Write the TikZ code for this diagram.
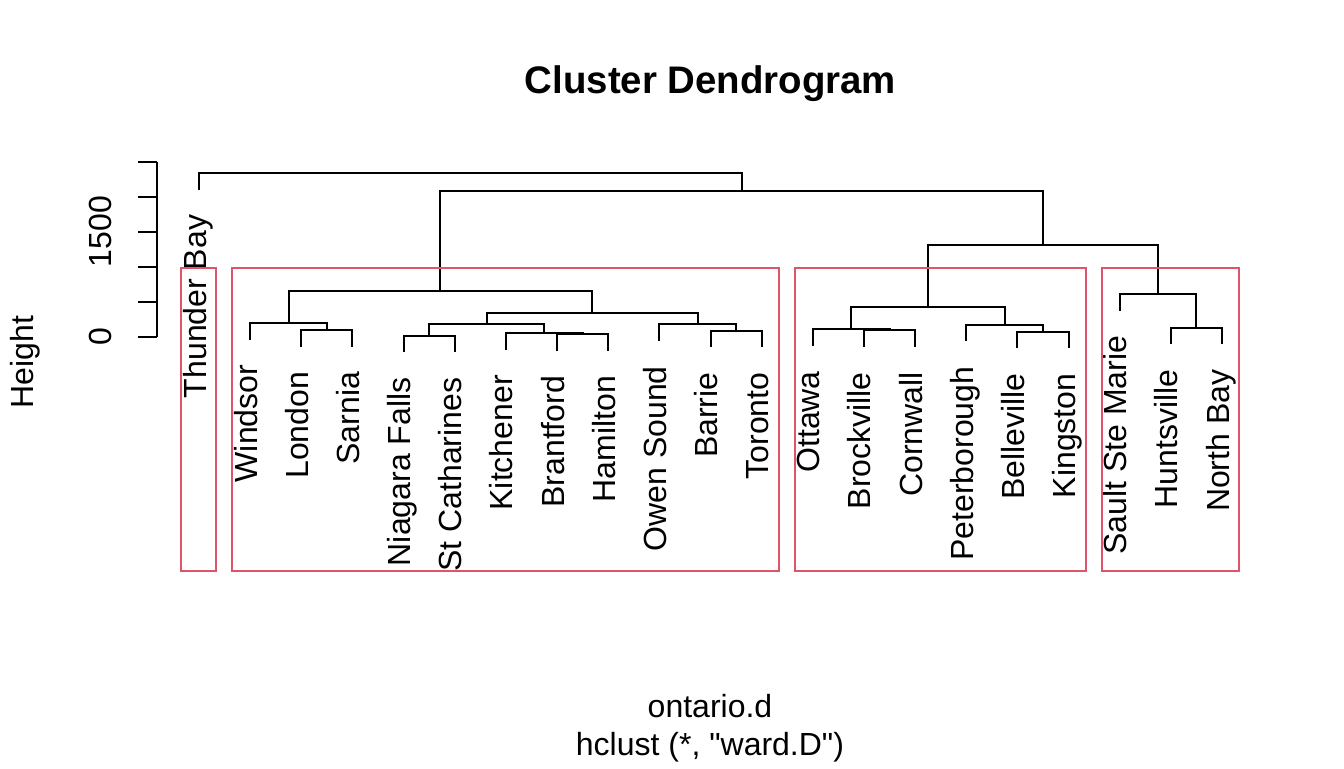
\documentclass[tikz,border=0pt]{standalone}
\usepackage{fontspec}
\setmainfont{Liberation Sans}
\newfontfamily\rawsans[Ligatures=TeXOff]{Liberation Sans}
\begin{document}
\begin{tikzpicture}[x=0.5pt,y=-0.5pt,
  branch/.style={line width=1pt,black},
  clusterbox/.style={line width=1pt,draw=boxred},
  leaflabel/.style={rotate=90,anchor=base east,inner sep=0pt,font=\fontsize{16}{19}\selectfont},
  ticklabel/.style={rotate=90,anchor=base,inner sep=0pt,font=\fontsize{16}{19}\selectfont},
  plaintext/.style={anchor=base,inner sep=0pt,font=\fontsize{16}{19}\selectfont}]
\definecolor{boxred}{HTML}{DF536B}
\useasboundingbox (0,0) rectangle (1344,768);

% leaf ends and their labels
\newcommand\dleaf[4]{%
  \coordinate (#1) at (#2,#3);
  \node[leaflabel] (#1-t) at ([xshift=3.5pt,yshift=-12.5pt]#1) {#4};}
\dleaf{TB}{199}{189.5}{Thunder Bay}
\dleaf{Win}{250.15}{339.5}{Windsor}
\dleaf{Lon}{301.3}{346.5}{London}
\dleaf{Sar}{352.45}{346.5}{Sarnia}
\dleaf{NF}{403.6}{352.2}{Niagara Falls}
\dleaf{StC}{454.75}{352.2}{St Catharines}
\dleaf{Kit}{505.9}{349.8}{Kitchener}
\dleaf{Bra}{557.05}{350.5}{Brantford}
\dleaf{Ham}{608.2}{350.5}{Hamilton}
\dleaf{Owe}{659.35}{340.8}{Owen Sound}
\dleaf{Bar}{710.5}{347.2}{Barrie}
\dleaf{Tor}{761.65}{347.2}{Toronto}
\dleaf{Ott}{812.8}{345.8}{Ottawa}
\dleaf{Bro}{863.95}{346.8}{Brockville}
\dleaf{Cor}{915.1}{346.8}{Cornwall}
\dleaf{Pet}{966.25}{341.2}{Peterborough}
\dleaf{Bel}{1017.4}{348.2}{Belleville}
\dleaf{Kin}{1068.55}{348.2}{Kingston}
\dleaf{Sau}{1119.7}{310.5}{Sault Ste Marie}
\dleaf{Hun}{1170.85}{344.2}{Huntsville}
\dleaf{NB}{1222}{344.2}{North Bay}

% merge points: (centre, height)
\coordinate (mLS) at (326.9,330);
\coordinate (mW) at (288.5,323);
\coordinate (mNS) at (429.2,335.7);
\coordinate (mBH) at (582.6,334);
\coordinate (mKBH) at (544.3,333.3);
\coordinate (mNSKBH) at (486.7,324.3);
\coordinate (mBT) at (736.1,330.7);
\coordinate (mOBT) at (697.7,324.3);
\coordinate (mSW) at (592.2,313.3);
\coordinate (mWest) at (440.4,291);
\coordinate (mBC) at (889.5,330.3);
\coordinate (mOBC) at (851.2,329.3);
\coordinate (mBK) at (1043,331.7);
\coordinate (mPBK) at (1004.6,324.7);
\coordinate (mEast) at (927.9,306.7);
\coordinate (mHN) at (1196.4,327.7);
\coordinate (mNorth) at (1158.1,294);
\coordinate (mEN) at (1043,245);
\coordinate (mSE) at (741.7,190.5);
\coordinate (mTop) at (470.4,173);

% branches
\draw[branch] (Lon) |- (mLS) -| (Sar);
\draw[branch] (Win) |- (mW) -| (mLS);
\draw[branch] (NF) |- (mNS) -| (StC);
\draw[branch] (Bra) |- (mBH) -| (Ham);
\draw[branch] (Kit) |- (mKBH) -| (mBH);
\draw[branch] (mNS) |- (mNSKBH) -| (mKBH);
\draw[branch] (Bar) |- (mBT) -| (Tor);
\draw[branch] (Owe) |- (mOBT) -| (mBT);
\draw[branch] (mNSKBH) |- (mSW) -| (mOBT);
\draw[branch] (mW) |- (mWest) -| (mSW);
\draw[branch] (Bro) |- (mBC) -| (Cor);
\draw[branch] (Ott) |- (mOBC) -| (mBC);
\draw[branch] (Bel) |- (mBK) -| (Kin);
\draw[branch] (Pet) |- (mPBK) -| (mBK);
\draw[branch] (mOBC) |- (mEast) -| (mPBK);
\draw[branch] (Hun) |- (mHN) -| (NB);
\draw[branch] (Sau) |- (mNorth) -| (mHN);
\draw[branch] (mEast) |- (mEN) -| (mNorth);
\draw[branch] (mWest) |- (mSE) -| (mEN);
\draw[branch] (TB) |- (mTop) -| (mSE);

% height axis
\coordinate (ax0) at (157.3,336.7);
\coordinate (ax1) at (157.3,161.7);
\draw[branch] (ax0) -- (ax1);
\foreach \t in {0,...,5}
  \draw[branch] (138,336.7-35*\t) -- (157.3,336.7-35*\t);
\node[ticklabel] (t0) at (111.5,336.7) {0};
\node[ticklabel] (t1500) at (111.5,231.7) {1500};
\node[ticklabel] (ylab) at (33,362) {Height};

% cluster rectangles
\draw[clusterbox] (180.7,268) rectangle (215.7,571);
\draw[clusterbox] (232.3,268) rectangle (778.7,571);
\draw[clusterbox] (795,268) rectangle (1086,571);
\draw[clusterbox] (1102.3,268) rectangle (1239.3,571);

% titles
\node[plaintext,font=\fontsize{19.2}{23}\selectfont\bfseries] (title) at (710.5,93.5) {Cluster Dendrogram};
\node[plaintext] (xlab) at (710,717.3) {ontario.d};
\node[plaintext,font=\rawsans\fontsize{16}{19}\selectfont] (sub) at (710,755) {hclust (*, "ward.D")};
\end{tikzpicture}
\end{document}
